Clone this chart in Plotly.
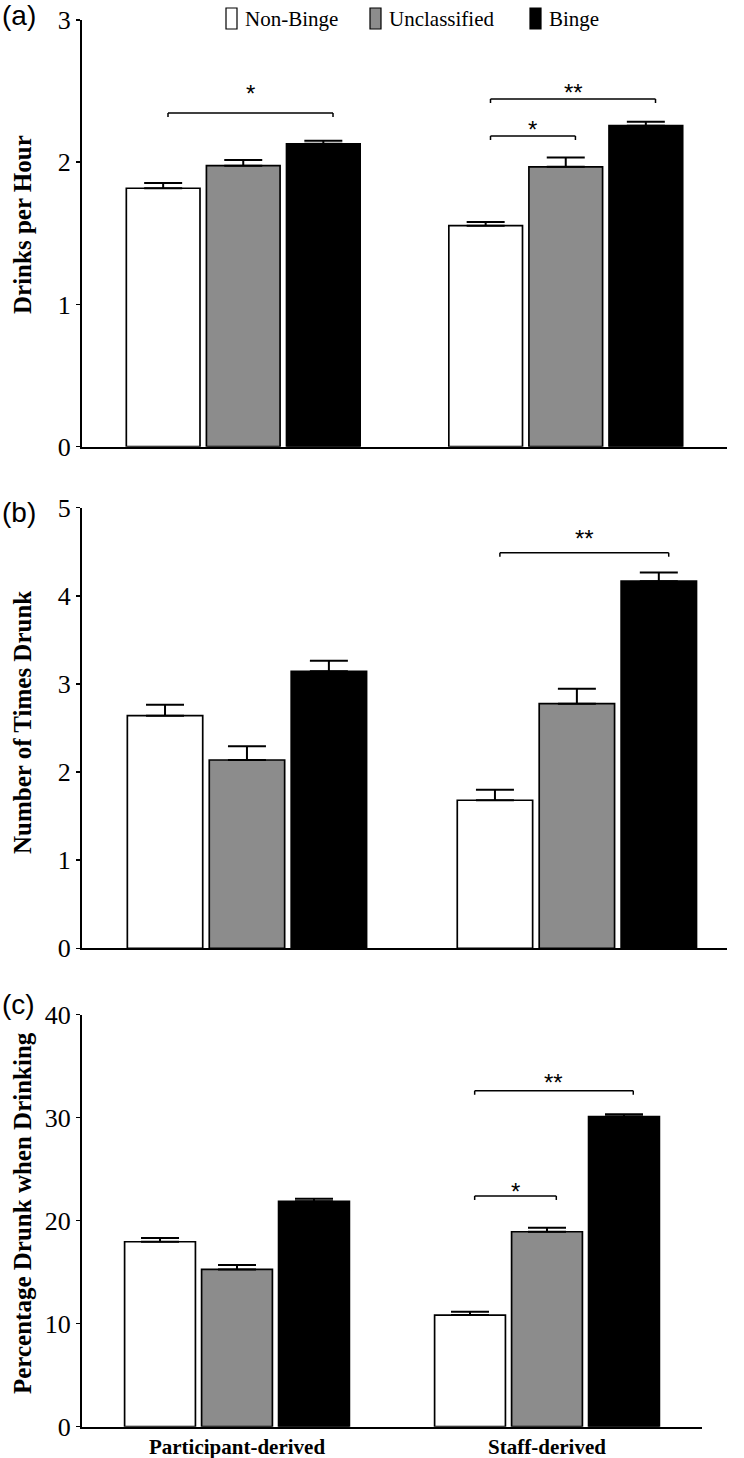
import plotly.graph_objects as go

# ---------------- data ----------------
categories = ["Participant-derived", "Staff-derived"]
groups = ["Non-Binge", "Unclassified", "Binge"]
group_colors = ["#ffffff", "#8c8c8c", "#000000"]

# (a) Drinks per hour
dph_nonbinge = [1.817, 1.554]
dph_nonbinge_se = [0.037, 0.025]
dph_unclassified = [1.976, 1.968]
dph_unclassified_se = [0.040, 0.066]
dph_binge = [2.130, 2.257]
dph_binge_se = [0.021, 0.028]

# (b) Number of times drunk
times_nonbinge = [2.64, 1.68]
times_nonbinge_se = [0.125, 0.12]
times_unclassified = [2.137, 2.776]
times_unclassified_se = [0.155, 0.17]
times_binge = [3.144, 4.166]
times_binge_se = [0.12, 0.10]

# (c) Percentage drunk when drinking
pct_nonbinge = [17.95, 10.83]
pct_nonbinge_se = [0.36, 0.32]
pct_unclassified = [15.26, 18.92]
pct_unclassified_se = [0.42, 0.39]
pct_binge = [21.87, 30.10]
pct_binge_se = [0.26, 0.22]

y_titles = ["Drinks per Hour", "Number of Times Drunk", "Percentage Drunk when Drinking"]
panel_labels = ["(a)", "(b)", "(c)"]
y_ranges = [[0, 3], [0, 5], [0, 40]]
y_dticks = [1, 1, 10]

# significance comparisons
sig_panel = [0, 0, 0, 1, 2, 2]
sig_group = [0, 1, 1, 1, 1, 1]
sig_from = [0, 0, 0, 0, 0, 0]
sig_to = [2, 2, 1, 2, 2, 1]
sig_level = [2.346, 2.444, 2.185, 4.489, 32.6, 22.39]
sig_star_y = [2.522, 2.529, 2.269, 4.716, 33.96, 23.36]
sig_label = ["*", "**", "*", "**", "**", "*"]

panels = [
    [(dph_nonbinge, dph_nonbinge_se), (dph_unclassified, dph_unclassified_se), (dph_binge, dph_binge_se)],
    [(times_nonbinge, times_nonbinge_se), (times_unclassified, times_unclassified_se), (times_binge, times_binge_se)],
    [(pct_nonbinge, pct_nonbinge_se), (pct_unclassified, pct_unclassified_se), (pct_binge, pct_binge_se)],
]

# ---------------- layout geometry (pixels) ----------------
W, H = 744, 1458
x_px = [(82, 727), (82, 727), (82, 702)]
y_px = [(20, 446.7), (507.7, 948.3), (1014.5, 1426.7)]
x_ranges = [[-0.5, 1.5], [-0.5, 1.455], [-0.5, 1.5]]
BARGAP = 0.255

SERIF = "Liberation Serif"
SANS = "Liberation Sans"

fig = go.Figure()

for p, series in enumerate(panels):
    suffix = "" if p == 0 else str(p + 1)
    for g, (vals, se) in enumerate(series):
        fig.add_trace(go.Bar(
            x=categories, y=vals, name=groups[g],
            xaxis="x" + suffix, yaxis="y" + suffix,
            marker=dict(color=group_colors[g], line=dict(color="black", width=1.7)),
            error_y=dict(type="data", symmetric=False, array=se, arrayminus=[0] * len(se),
                         color="black", thickness=2, width=19),
            showlegend=False,
        ))

layout = dict(
    width=W, height=H,
    margin=dict(l=0, r=0, t=0, b=0),
    paper_bgcolor="white", plot_bgcolor="white",
    barmode="group", bargap=BARGAP, bargroupgap=0.08,
    showlegend=False,
)

for p in range(3):
    suffix = "" if p == 0 else str(p + 1)
    xd = [x_px[p][0] / W, x_px[p][1] / W]
    yd = [1 - y_px[p][1] / H, 1 - y_px[p][0] / H]
    layout["xaxis" + suffix] = dict(
        domain=xd, anchor="y" + suffix, type="category", range=x_ranges[p],
        showline=True, linecolor="black", linewidth=2, ticks="",
        showgrid=False, zeroline=False, automargin=False,
        showticklabels=(p == 2),
        tickfont=dict(family=SERIF, size=21, color="black", weight="bold"),
    )
    layout["yaxis" + suffix] = dict(
        domain=yd, anchor="x" + suffix, range=y_ranges[p], dtick=y_dticks[p], tick0=0,
        showline=True, linecolor="black", linewidth=2,
        ticks="outside", ticklen=4, tickwidth=1.5, tickcolor="black",
        showgrid=False, zeroline=False, automargin=False,
        tickfont=dict(family=SERIF, size=26, color="black"),
    )
fig.update_layout(**layout)

# ---------------- significance brackets ----------------
bar_step = (1 - BARGAP) / 3
shapes = []
annotations = []
for k in range(len(sig_label)):
    p = sig_panel[k]
    suffix = "" if p == 0 else str(p + 1)
    px_per_unit = (y_px[p][1] - y_px[p][0]) / (y_ranges[p][1] - y_ranges[p][0])
    tick = 4 / px_per_unit
    x0 = sig_group[k] + (sig_from[k] - 1) * bar_step + 0.015
    x1 = sig_group[k] + (sig_to[k] - 1) * bar_step + 0.03
    y = sig_level[k]
    line = dict(color="black", width=1.5)
    for (ax0, ay0, ax1, ay1) in [(x0, y - tick, x0, y), (x0, y, x1, y), (x1, y, x1, y - tick)]:
        shapes.append(dict(type="line", xref="x" + suffix, yref="y" + suffix,
                           x0=ax0, y0=ay0, x1=ax1, y1=ay1, line=line))
    annotations.append(dict(xref="x" + suffix, yref="y" + suffix, x=(x0 + x1) / 2, y=sig_star_y[k],
                            text=sig_label[k], showarrow=False, yanchor="middle", yshift=-6,
                            font=dict(family=SANS, size=24, color="black")))

# ---------------- panel labels and axis titles ----------------
panel_label_y = [16, 512, 1004]
title_y = [225, 723, 1213]
for p in range(3):
    annotations.append(dict(xref="paper", yref="paper", x=0, y=1 - panel_label_y[p] / H,
                            xanchor="left", yanchor="middle", text=panel_labels[p], showarrow=False,
                            font=dict(family=SANS, size=28, color="black")))
    annotations.append(dict(xref="paper", yref="paper", x=22 / W, y=1 - title_y[p] / H,
                            xanchor="center", yanchor="middle", text="<b>" + y_titles[p] + "</b>",
                            textangle=-90, showarrow=False,
                            font=dict(family=SERIF, size=25, color="black")))

# ---------------- legend (drawn) ----------------
legend_box_x = [226, 370, 530]
legend_text_x = [243, 387, 547]
for g in range(3):
    shapes.append(dict(type="rect", xref="paper", yref="paper",
                       x0=legend_box_x[g] / W, x1=(legend_box_x[g] + 11) / W,
                       y0=1 - 29 / H, y1=1 - 8 / H,
                       fillcolor=group_colors[g], line=dict(color="black", width=1.2)))
    annotations.append(dict(xref="paper", yref="paper", x=legend_text_x[g] / W, y=1 - 19 / H,
                            xanchor="left", yanchor="middle", text=groups[g], showarrow=False,
                            font=dict(family=SERIF, size=21, color="black")))

fig.update_layout(shapes=shapes, annotations=annotations)
fig.write_html("out.html",
               config={"displayModeBar": False, "staticPlot": True},
               post_script="document.body.style.margin='0';document.body.style.padding='0';")
